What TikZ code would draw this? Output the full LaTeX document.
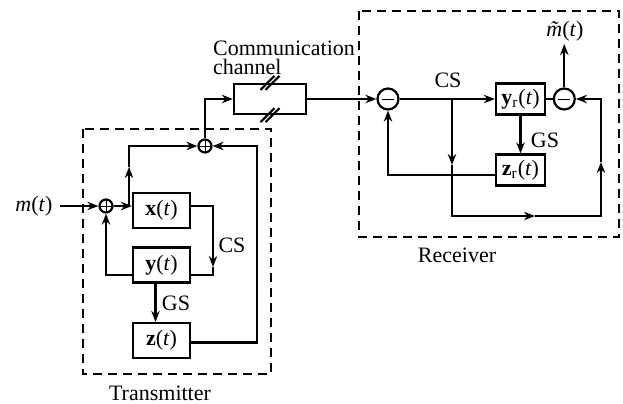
\documentclass[tikz,border=0pt]{standalone}
\usepackage{fontspec}
\setmainfont{Liberation Serif}
\usetikzlibrary{arrows.meta}
\newcommand\mtil{{\setbox0\hbox{\textit{m}}\rlap{\hbox to\wd0{\hss\textit{\char"02DC}\hss}}\box0}}

\begin{document}
\begin{tikzpicture}[
  x=0.5pt, y=-0.5pt,
  line width=1.1pt,
  >={Stealth[length=5.5pt,width=4.2pt,inset=1.8pt]},
  font=\fontsize{11}{13}\selectfont,
  block/.style={draw,minimum width=28.5pt,minimum height=17.5pt,inner sep=1pt},
  rblock/.style={draw,minimum width=24.5pt,minimum height=15.5pt,inner sep=1pt},
  adder/.style={circle,draw,minimum size=6.5pt,inner sep=0pt,
    path picture={\draw[line width=0.4pt] (path picture bounding box.north) -- (path picture bounding box.south)
      (path picture bounding box.west) -- (path picture bounding box.east);}},
  subtr/.style={circle,draw,minimum size=10.5pt,inner sep=0pt,
    path picture={\draw[line width=0.5pt] ([xshift=-3pt]path picture bounding box.center) -- ([xshift=3pt]path picture bounding box.center);}},
  unit/.style={dash pattern=on 4.5pt off 3pt,line width=0.8pt}
]
  \useasboundingbox (0,0) rectangle (623,403);

  % transmitter
  \node (msg) at (34,206) {\textit{m}(\textit{t})};
  \node[adder] (sum1) at (106,206) {};
  \node[block] (xbox) at (161.5,210.5) {\textbf{x}(\textit{t})};
  \node[block] (ybox) at (161.5,265) {\textbf{y}(\textit{t})};
  \node[block] (zbox) at (161.5,340.5) {\textbf{z}(\textit{t})};
  \node[adder] (sum2) at (205,146) {};
  \coordinate (j1) at (129,206);
  \coordinate (a1) at (129,167);
  \coordinate (cs1) at (213,267);
  \coordinate (zr1) at (257,146);

  \draw[->] (msg) -- (sum1);
  \draw[->] (sum1) -- (xbox.west |- sum1);
  \draw[->] (j1) -- (a1);
  \draw[->] (a1) |- (sum2);
  \draw[->] (xbox.east |- sum1) -| (cs1);
  \draw (cs1) |- ([yshift=-5pt]ybox.east);
  \draw[->] ([yshift=-5pt]ybox.west) -| (sum1);
  \draw[->] ([xshift=-3pt]ybox.south) -- ([xshift=-3pt]zbox.north);
  \draw[->] ([yshift=-1pt]zbox.east) -| (zr1) -- (sum2);
  \node at (232,245) {CS};
  \node at (176,303) {GS};

  % channel
  \node[draw,minimum width=36pt,minimum height=15pt,inner sep=0pt] (chan) at (270,99) {};
  \foreach \s in {north,south}
    \foreach \d in {-1.25,1.25}
      \draw ([xshift=\d pt]chan.\s) +(-3.5pt,-3.5pt) -- +(3.5pt,3.5pt);
  \node[anchor=west,align=left,inner sep=0pt,font=\fontsize{11}{9.5}\selectfont] (chanlab) at (212,58) {Communication\\channel};
  \draw[->] (sum2) |- (chan.west);

  % receiver
  \node[subtr] (dif1) at (388,99) {};
  \node[rblock] (yrbox) at (520.5,99) {\textbf{y}\textsubscript{r}(\textit{t})};
  \node[rblock] (zrbox) at (520.5,170) {\textbf{z}\textsubscript{r}(\textit{t})};
  \node[subtr] (dif2) at (564.3,99) {};
  \node[anchor=south,inner sep=1pt] (mest) at (565,44) {\mtil(\textit{t})};
  \coordinate (b1) at (452,99);
  \coordinate (b2) at (452,165);
  \coordinate (b3) at (535,216);
  \coordinate (b4) at (601,162);

  \draw[->] (chan.east) -- (dif1);
  \draw[->] (dif1) -- (yrbox);
  \draw[->] (b1) -- (b2);
  \draw[->] (b2) |- (b3);
  \draw[->] (b3) -| (b4);
  \draw[->] (b4) |- (dif2);
  \draw (yrbox) -- (dif2);
  \draw[->] (dif2) -- (dif2 |- mest.south);
  \draw[->] (yrbox) -- (zrbox);
  \draw[->] ([yshift=-2.5pt]zrbox.west) -| (dif1);
  \node at (448,80) {CS};
  \node at (545,140) {GS};

  % frames
  \draw[unit] (83,129) rectangle (271,374);
  \draw[unit] (359,11) rectangle (619,237);
  \node at (160,393) {Transmitter};
  \node at (457,255) {Receiver};
\end{tikzpicture}
\end{document}
